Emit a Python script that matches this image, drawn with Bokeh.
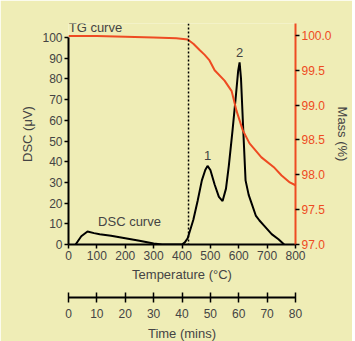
from bokeh.plotting import figure
from bokeh.models import Range1d, LinearAxis, FixedTicker, Span, Label, NumeralTickFormatter
from bokeh.embed import file_html
from bokeh.resources import INLINE

# ---- data ----
dsc_temp = [25, 45, 67, 90, 110, 150, 200, 250, 300, 330, 400, 410, 420, 440, 455, 470,
            482, 490, 500, 515, 530, 543, 555, 565, 578, 590, 598, 603, 608, 615, 624,
            635, 645, 660, 673, 690, 716, 740, 760]
dsc_val = [0, 4, 6.3, 5.5, 5.0, 4.2, 3.0, 1.8, 0.5, 0, 0, 1, 3, 12, 21, 31,
           36, 38, 36, 29, 23, 21, 27, 38, 55, 72, 84, 88, 80, 58, 31,
           24, 20, 14, 11.6, 9, 5, 2.5, 0]

tg_temp = [0, 100, 200, 300, 380, 420, 440, 462, 480, 497, 515, 550, 575, 592, 614,
           638, 680, 726, 751, 780, 800]
tg_mass = [99.99, 99.99, 99.98, 99.97, 99.96, 99.94, 99.88, 99.79, 99.72, 99.64, 99.5,
           99.35, 99.2, 98.92, 98.64, 98.45, 98.25, 98.1, 97.99, 97.89, 97.85]

onset_temp = 423
temp_ticks = [0, 100, 200, 300, 400, 500, 600, 700, 800]
dsc_ticks = [0, 10, 20, 30, 40, 50, 60, 70, 80, 90, 100]
mass_ticks = [97.0, 97.5, 98.0, 98.5, 99.0, 99.5, 100.0]
time_ticks = [0, 10, 20, 30, 40, 50, 60, 70, 80]

annotations = [("TG curve", 95, 104.8), ("DSC curve", 215, 11), ("1", 490, 43), ("2", 603, 92.8)]

# ---- styling ----
BG = "#EFEDB6"
RED = "#EE4B22"
FONT = "Liberation Sans"
TICK_FS = "12px"
TITLE_FS = "13px"

p = figure(frame_width=227, frame_height=221, output_backend="svg", toolbar_location=None,
           x_range=Range1d(0, 800), y_range=Range1d(0, 106.8),
           min_border_left=68, min_border_right=54, min_border_top=23, min_border_bottom=90)
p.background_fill_color = BG
p.border_fill_color = BG
p.outline_line_color = None
p.xgrid.visible = False
p.ygrid.visible = False

p.extra_y_ranges = {"mass": Range1d(97.0, 100.17)}
p.extra_x_ranges = {"time": Range1d(0, 80)}


def style_axis(ax, color="black"):
    ax.axis_line_width = 2
    ax.axis_line_color = color
    ax.major_tick_line_color = "black"
    ax.major_tick_line_width = 1.5
    ax.major_tick_out = 4
    ax.major_tick_in = 0
    ax.minor_tick_line_color = None
    ax.major_label_text_font = FONT
    ax.major_label_text_font_size = TICK_FS
    ax.major_label_standoff = 2
    ax.axis_label_text_font = FONT
    ax.axis_label_text_font_size = TITLE_FS
    ax.axis_label_text_font_style = "normal"
    ax.axis_label_standoff = 4


# left axis
ya = p.yaxis[0]
style_axis(ya)
ya.ticker = FixedTicker(ticks=dsc_ticks)
ya.bounds = (0, 100)
ya.axis_label = "DSC (\u03bcV)"

# bottom axis
xa = p.xaxis[0]
style_axis(xa)
xa.ticker = FixedTicker(ticks=temp_ticks)
xa.axis_label = "Temperature (\u00b0C)"
xa.axis_label_standoff = 4

# right axis
ra = LinearAxis(y_range_name="mass")
style_axis(ra, RED)
ra.ticker = FixedTicker(ticks=mass_ticks)
ra.formatter = NumeralTickFormatter(format="0.0")
ra.major_label_text_color = RED
ra.axis_label = "Mass (%)"
ra.axis_label_standoff = 0
p.add_layout(ra, "right")

# spacer between temperature axis and time axis
sp = LinearAxis(x_range_name="time")
sp.ticker = FixedTicker(ticks=[])
sp.axis_line_color = None
sp.major_tick_line_color = None
sp.minor_tick_line_color = None
sp.major_tick_out = 0
sp.major_tick_in = 0
sp.major_label_standoff = 0
sp.axis_label_standoff = 0
sp.axis_label = "\u00a0"
sp.axis_label_text_font_size = "9px"
p.add_layout(sp, "below")

# time axis
ta = LinearAxis(x_range_name="time")
style_axis(ta)
ta.ticker = FixedTicker(ticks=time_ticks)
ta.major_tick_in = 5
ta.major_tick_out = 5
ta.major_label_standoff = 6
ta.axis_label = "Time (mins)"
ta.axis_label_standoff = 5
p.add_layout(ta, "below")

# data
p.line(dsc_temp, dsc_val, line_color="black", line_width=2)
p.line(tg_temp, tg_mass, y_range_name="mass", line_color=RED, line_width=2)

p.add_layout(Span(location=onset_temp, dimension="height", line_color="black",
                  line_dash="2 2", line_width=1.5))

for txt, tx, ty in annotations:
    p.add_layout(Label(x=tx, y=ty, text=txt, text_font=FONT, text_font_size=TITLE_FS,
                       text_align="center", text_baseline="middle"))

open("out.html", "w").write(file_html(p, INLINE))
